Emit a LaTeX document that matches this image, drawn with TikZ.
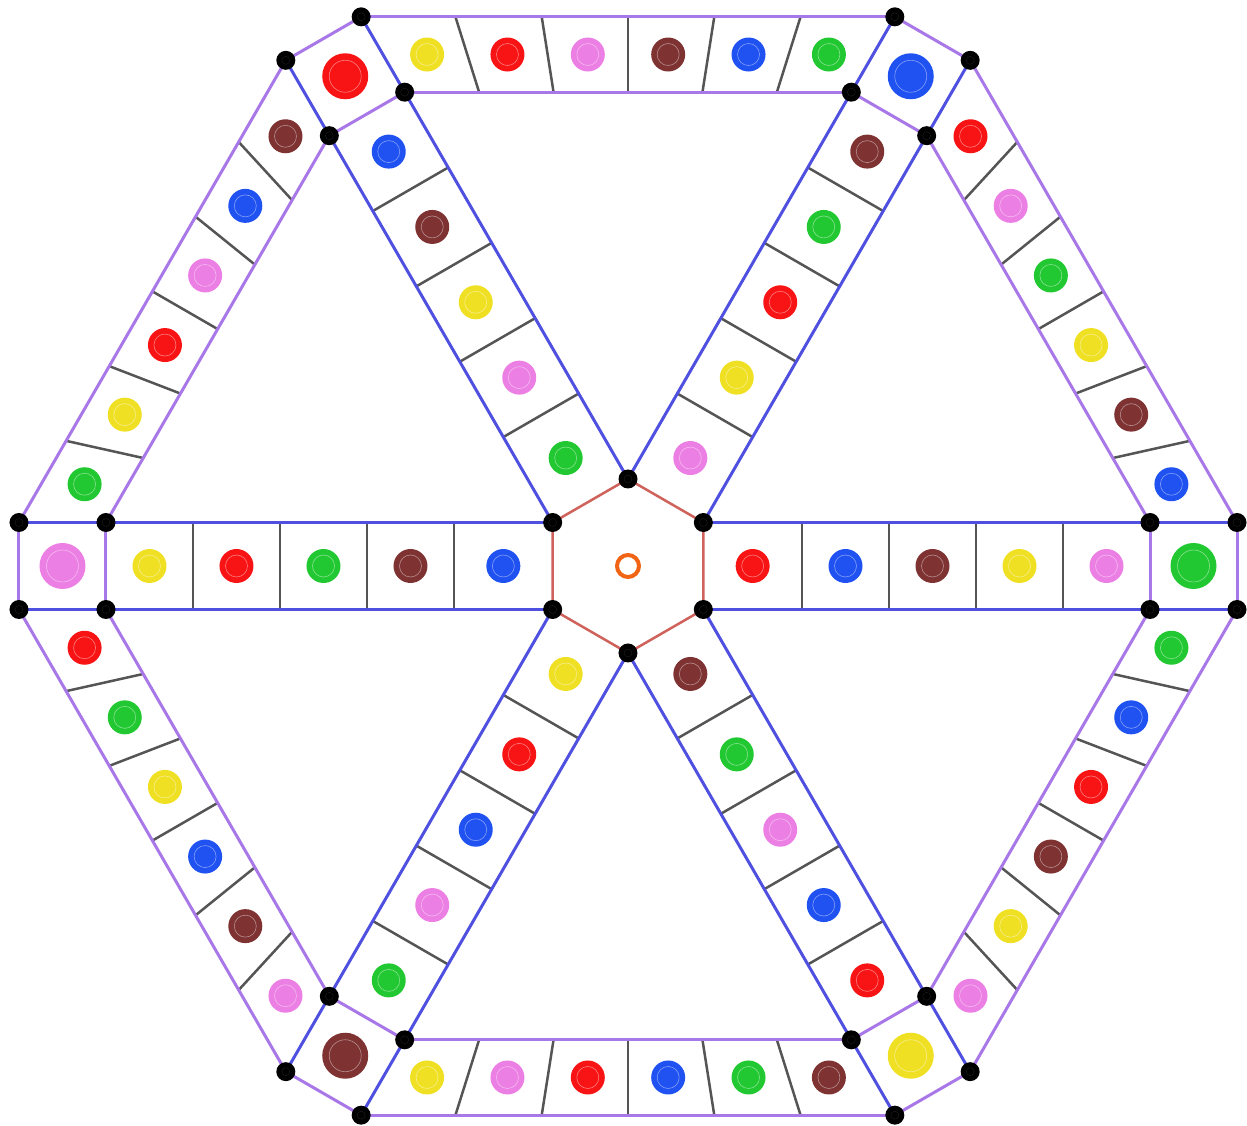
\documentclass[tikz,border=0pt]{standalone}
\usetikzlibrary{calc}
\definecolor{cred}{HTML}{F81414}
\definecolor{cyel}{HTML}{F0E024}
\definecolor{cpink}{HTML}{EC7FE4}
\definecolor{cbrown}{HTML}{7E3232}
\definecolor{cblue}{HTML}{2052F2}
\definecolor{cgreen}{HTML}{22C832}
\definecolor{lpurple}{HTML}{A878E8}
\definecolor{lblue}{HTML}{5050E0}
\definecolor{lhex}{HTML}{D0625C}
\definecolor{ldiv}{HTML}{555555}
\definecolor{corange}{HTML}{F06414}
\begin{document}
\begin{tikzpicture}[x=1pt,y=1pt,
  pline/.style={lpurple, line width=3},
  bline/.style={lblue, line width=3},
  dline/.style={ldiv, line width=2.5},
  hline/.style={lhex, line width=2.5},
  vdot/.style={circle, fill=black, minimum size=19, inner sep=0,
    path picture={\draw[black!85, line width=.3] (path picture bounding box.center) circle (4);}},
  tok/.style={circle, minimum size=34, inner sep=0,
    path picture={\draw[white, opacity=.45, line width=.6] (path picture bounding box.center) circle (11);}},
  bigtok/.style={circle, minimum size=46, inner sep=0,
    path picture={\draw[white, opacity=.45, line width=.6] (path picture bounding box.center) circle (16);}},
  ctrring/.style={circle, draw=corange, line width=4, minimum size=22, inner sep=0}
]
\useasboundingbox (-628,-560) rectangle (619,566);
\coordinate (C) at (0,0);
% coordinates
\foreach \k in {0,...,5} {
  \begin{scope}[rotate=60*\k]
    \coordinate (h\k a) at (75.34,-43.5);
    \coordinate (h\k b) at (75.34,43.5);
    \coordinate (i\k a) at (522,-43.5);
    \coordinate (i\k b) at (522,43.5);
    \coordinate (o\k a) at (609,-43.5);
    \coordinate (o\k b) at (609,43.5);
    \foreach \j in {2,...,5} {
      \coordinate (d\k-\j a) at (87*\j,-43.5);
      \coordinate (d\k-\j b) at (87*\j,43.5);
    }
    \foreach \x [count=\j] in {124.67,217.5,304.5,391.5,478.5,565.5} {
      \coordinate (sc\k-\j) at (\x,0);
    }
  \end{scope}
}
% central hexagon
\draw[hline] (h0a) -- (h1a) -- (h2a) -- (h3a) -- (h4a) -- (h5a) -- cycle;
% spokes, corners and ring
\foreach \k in {0,...,5} {
  \pgfmathtruncatemacro\n{mod(\k+1,6)}
  \foreach \j in {2,...,5} { \draw[dline] (d\k-\j a) -- (d\k-\j b); }
  \foreach \j in {1,...,5} {
    \coordinate (r\k-\j) at ($(i\k b)!\j/6!(i\n a)$);
    \coordinate (R\k-\j) at ($(C)!1.159!(r\k-\j)$);
    \draw[dline] (r\k-\j) -- (R\k-\j);
  }
  \foreach \j [evaluate=\j as \t using (\j-0.5)/6] in {1,...,6} {
    \coordinate (m\k-\j) at ($(i\k b)!\t!(i\n a)$);
    \coordinate (rc\k-\j) at ($(C)!1.0795!(m\k-\j)$);
  }
  \draw[pline] (i\k b) -- (i\n a);
  \draw[pline] (o\k b) -- (o\n a);
  \draw[pline] (i\k a) -- (i\k b);
  \draw[pline] (o\k a) -- (o\k b);
  \draw[bline] (h\k a) -- (o\k a);
  \draw[bline] (h\k b) -- (o\k b);
}
% spoke tokens (from centre outward, last = corner)
\foreach \k/\cols in {
  0/{cred,cblue,cbrown,cyel,cpink,cgreen},
  1/{cpink,cyel,cred,cgreen,cbrown,cblue},
  2/{cgreen,cpink,cyel,cbrown,cblue,cred},
  3/{cblue,cbrown,cgreen,cred,cyel,cpink},
  4/{cyel,cred,cblue,cpink,cgreen,cbrown},
  5/{cbrown,cgreen,cpink,cblue,cred,cyel}} {
  \foreach \c [count=\j] in \cols {
    \ifnum\j=6
      \node[bigtok, fill=\c] (st\k-\j) at (sc\k-\j) {};
    \else
      \node[tok, fill=\c] (st\k-\j) at (sc\k-\j) {};
    \fi
  }
}
% ring tokens (counter-clockwise from corner k to corner k+1)
\foreach \k/\cols in {
  0/{cblue,cbrown,cyel,cgreen,cpink,cred},
  1/{cgreen,cblue,cbrown,cpink,cred,cyel},
  2/{cbrown,cblue,cpink,cred,cyel,cgreen},
  3/{cred,cgreen,cyel,cblue,cbrown,cpink},
  4/{cyel,cpink,cred,cblue,cgreen,cbrown},
  5/{cpink,cyel,cbrown,cred,cblue,cgreen}} {
  \foreach \c [count=\j] in \cols {
    \node[tok, fill=\c] (rt\k-\j) at (rc\k-\j) {};
  }
}
% centre ring
\node[ctrring] (ctr) at (C) {};
% vertex dots
\foreach \k in {0,...,5} {
  \node[vdot] (dh\k) at (h\k a) {};
  \node[vdot] (dia\k) at (i\k a) {};
  \node[vdot] (dib\k) at (i\k b) {};
  \node[vdot] (doa\k) at (o\k a) {};
  \node[vdot] (dob\k) at (o\k b) {};
}
\end{tikzpicture}
\end{document}
